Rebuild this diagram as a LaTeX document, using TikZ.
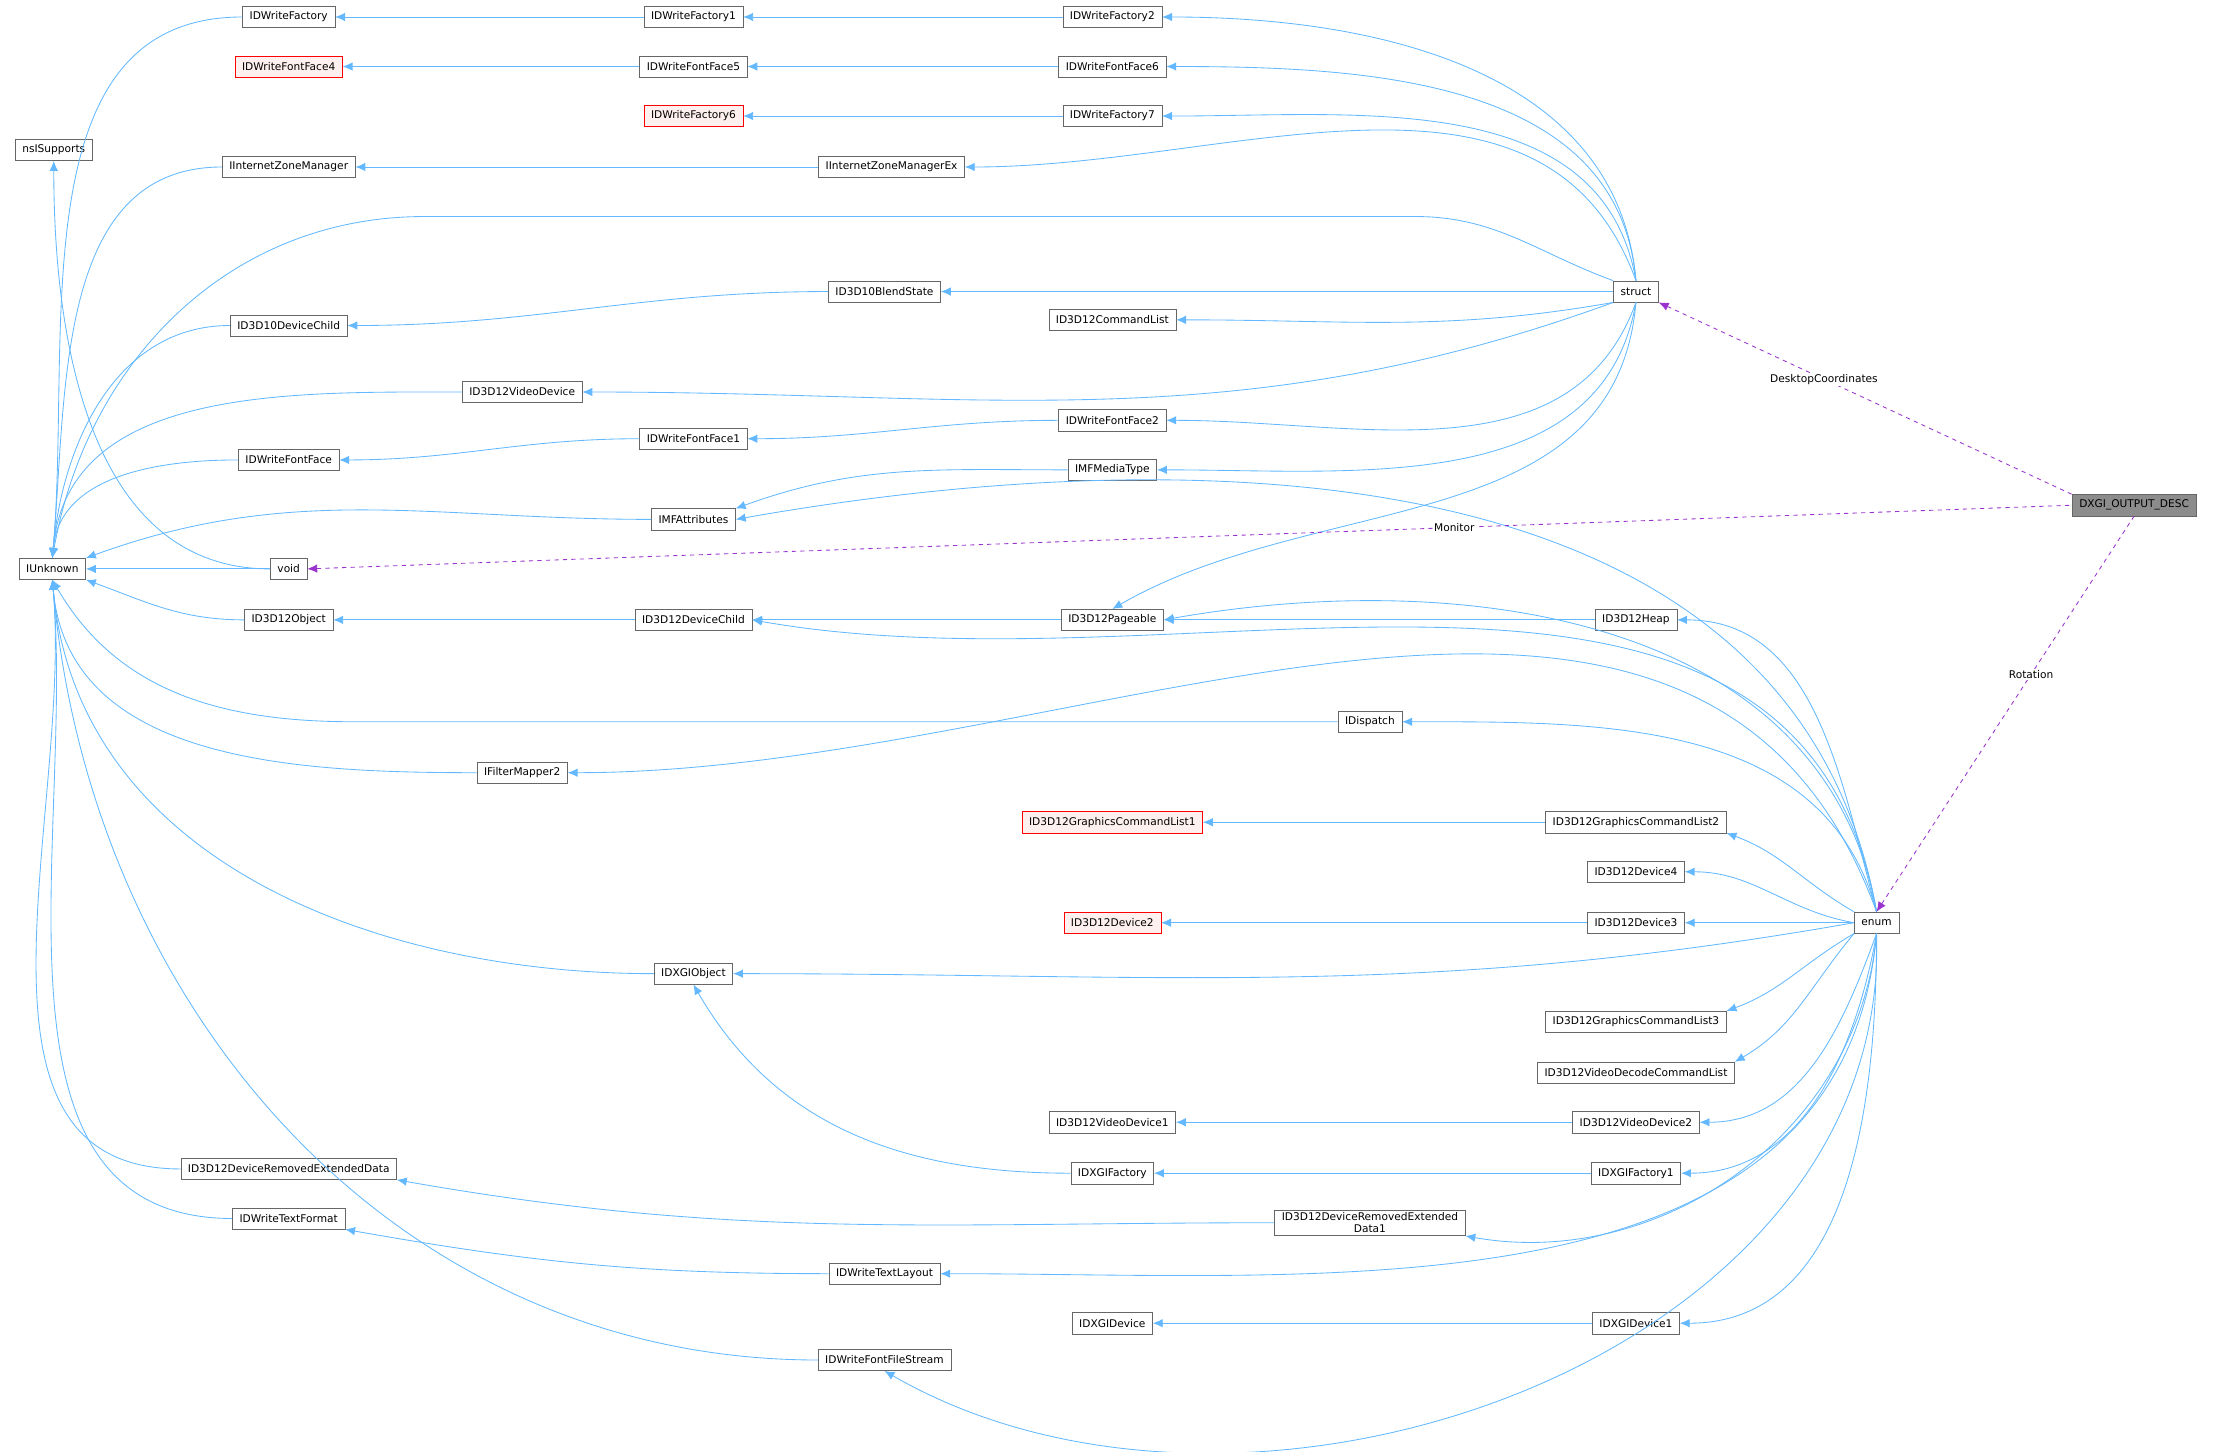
\documentclass[tikz,border=0pt]{standalone}
\usepackage{fontspec}
\setmainfont{DejaVu Sans}
\usetikzlibrary{arrows.meta}
\definecolor{edgeblue}{HTML}{63B8FF}
\definecolor{relpurple}{HTML}{9A32CD}
\tikzset{
  cls/.style={draw=black!60, fill=white, font=\fontsize{7.5}{8.5}\selectfont, minimum height=15pt, inner xsep=5pt, inner ysep=2pt, align=center},
  red cls/.style={cls, draw=red, fill=red!6},
  inh/.style={{Latex[length=7pt,width=6pt]}-, draw=edgeblue, line width=0.6pt},
  rel/.style={{Latex[length=7pt,width=6pt]}-, draw=relpurple, dashed, line width=0.6pt},
  lbl/.style={font=\fontsize{7.5}{8.5}\selectfont, fill=white, inner sep=1pt}
}
\begin{document}
\begin{tikzpicture}[x=1pt,y=-1pt]
\useasboundingbox (0,0) rectangle (1568,1026);

% classes
\node[cls] (nsi) at (38,106) {nsISupports};
\node[cls] (iunk) at (37,402) {IUnknown};
\node[cls] (dwf) at (204,12) {IDWriteFactory};
\node[cls] (dwf1) at (490,12) {IDWriteFactory1};
\node[cls] (dwf2) at (786,12) {IDWriteFactory2};
\node[red cls] (ff4) at (204,47) {IDWriteFontFace4};
\node[cls] (ff5) at (490,47) {IDWriteFontFace5};
\node[cls] (ff6) at (786,47) {IDWriteFontFace6};
\node[red cls] (dwf6) at (490,82) {IDWriteFactory6};
\node[cls] (dwf7) at (786,82) {IDWriteFactory7};
\node[cls] (izm) at (204,118) {IInternetZoneManager};
\node[cls] (izmx) at (630,118) {IInternetZoneManagerEx};
\node[cls] (blend) at (625,206) {ID3D10BlendState};
\node[cls] (strct) at (1156,206) {struct};
\node[cls] (dchild10) at (204,230) {ID3D10DeviceChild};
\node[cls] (cmdl) at (786,226) {ID3D12CommandList};
\node[cls] (vdev) at (369,277) {ID3D12VideoDevice};
\node[cls] (ff2) at (786,297) {IDWriteFontFace2};
\node[cls] (ff1) at (490,310) {IDWriteFontFace1};
\node[cls] (ff) at (204,325) {IDWriteFontFace};
\node[cls] (mft) at (786,332) {IMFMediaType};
\node[cls] (mfa) at (490,367) {IMFAttributes};
\node[cls, fill=black!45] (desc) at (1508,357) {DXGI\_OUTPUT\_DESC};
\node[cls] (void) at (204,402) {void};
\node[cls] (obj) at (204,438) {ID3D12Object};
\node[cls] (dchild) at (490,438) {ID3D12DeviceChild};
\node[cls] (page) at (786,438) {ID3D12Pageable};
\node[cls] (heap) at (1156,438) {ID3D12Heap};
\node[cls] (disp) at (968,510) {IDispatch};
\node[cls] (fm2) at (369,546) {IFilterMapper2};
\node[red cls] (gcl1) at (786,581) {ID3D12GraphicsCommandList1};
\node[cls] (gcl2) at (1156,581) {ID3D12GraphicsCommandList2};
\node[cls] (dev4) at (1156,616) {ID3D12Device4};
\node[red cls] (dev2) at (786,652) {ID3D12Device2};
\node[cls] (dev3) at (1156,652) {ID3D12Device3};
\node[cls] (enm) at (1326,652) {enum};
\node[cls] (dxo) at (490,688) {IDXGIObject};
\node[cls] (gcl3) at (1156,722) {ID3D12GraphicsCommandList3};
\node[cls] (vdcl) at (1156,758) {ID3D12VideoDecodeCommandList};
\node[cls] (vdev1) at (786,793) {ID3D12VideoDevice1};
\node[cls] (vdev2) at (1156,793) {ID3D12VideoDevice2};
\node[cls] (dred) at (204,826) {ID3D12DeviceRemovedExtendedData};
\node[cls] (dxf) at (786,829) {IDXGIFactory};
\node[cls] (dxf1) at (1156,829) {IDXGIFactory1};
\node[cls] (dred1) at (968,864) {ID3D12DeviceRemovedExtended\\Data1};
\node[cls] (tfmt) at (204,861) {IDWriteTextFormat};
\node[cls] (tlay) at (625,900) {IDWriteTextLayout};
\node[cls] (dxd) at (786,935) {IDXGIDevice};
\node[cls] (dxd1) at (1156,935) {IDXGIDevice1};
\node[cls] (ffs) at (625,961) {IDWriteFontFileStream};

% inheritance
\draw[inh] (dwf) -- (dwf1);
\draw[inh] (dwf1) -- (dwf2);
\draw[inh] (ff4) -- (ff5);
\draw[inh] (ff5) -- (ff6);
\draw[inh] (dwf6) -- (dwf7);
\draw[inh] (izm) -- (izmx);
\draw[inh] (dchild10.east) to[out=0,in=180] (blend.west);
\draw[inh] (ff.east) to[out=0,in=180] (ff1.west);
\draw[inh] (ff1.east) to[out=0,in=180] (ff2.west);
\draw[inh] (mfa.north east) to[out=20,in=180] (mft.west);
\draw[inh] (obj) -- (dchild);
\draw[inh] (dchild) -- (page);
\draw[inh] (page) -- (heap);
\draw[inh] (gcl1) -- (gcl2);
\draw[inh] (dev2) -- (dev3);
\draw[inh] (vdev1) -- (vdev2);
\draw[inh] (dxf) -- (dxf1);
\draw[inh] (dxd) -- (dxd1);
\draw[inh] (dxo.south) to[out=-60,in=180] (dxf.west);
\draw[inh] (dred.south east) to[out=-10,in=180] (dred1.west);
\draw[inh] (tfmt.south east) to[out=-10,in=180] (tlay.west);
\draw[inh] (nsi.south) to[out=-90,in=180] (void.west);

% from struct
\draw[inh] (dwf2.east) to[out=0,in=95] (strct.north);
\draw[inh] (ff6.east) to[out=0,in=95] (strct.north);
\draw[inh] (dwf7.east) to[out=0,in=100] (strct.north);
\draw[inh] (izmx.east) to[out=0,in=110] (strct.north);
\draw[inh] (iunk.north) to[out=80,in=180] (300,153) -- (1000,153) to[out=0,in=160] (strct.north west);
\draw[inh] (blend.east) to[out=0,in=180] (strct.west);
\draw[inh] (cmdl.east) to[out=0,in=190] (strct.south west);
\draw[inh] (vdev.east) to[out=0,in=200] (strct.south west);
\draw[inh] (ff2.east) to[out=0,in=-110] (strct.south);
\draw[inh] (mft.east) to[out=0,in=-100] (strct.south);
\draw[inh] (page.north) to[out=30,in=-95] (strct.south);

% to IUnknown
\foreach \n in {dwf,izm,dchild10,vdev,ff}
  \draw[inh] (iunk.north) to[out=85,in=180] (\n.west);
\draw[inh] (iunk.north east) to[out=20,in=180] (mfa.west);
\draw[inh] (iunk) -- (void);
\draw[inh] (iunk.south east) to[out=-20,in=180] (obj.west);
\draw[inh] (iunk.south) to[out=-60,in=180] (250,510) -- (disp.west);
\foreach \n in {fm2,dxo,dred,tfmt,ffs}
  \draw[inh] (iunk.south) to[out=-85,in=180] (\n.west);

% from enum
\draw[inh] (mfa.east) to[out=10,in=100] (enm.north);
\draw[inh] (page.east) to[out=10,in=100] (enm.north);
\draw[inh] (dchild.east) to[out=-10,in=100] (enm.north);
\draw[inh] (heap.east) to[out=0,in=105] (enm.north);
\draw[inh] (disp.east) to[out=0,in=105] (enm.north);
\draw[inh] (fm2.east) to[out=0,in=110] (enm.north);
\draw[inh] (gcl2.south east) to[out=-20,in=150] (enm.north west);
\draw[inh] (dev4.east) to[out=0,in=170] (enm.west);
\draw[inh] (dev3) -- (enm);
\draw[inh] (dxo.east) to[out=0,in=190] (enm.west);
\draw[inh] (gcl3.north east) to[out=20,in=210] (enm.south west);
\draw[inh] (vdcl.north east) to[out=30,in=230] (enm.south west);
\draw[inh] (vdev2.east) to[out=0,in=250] (enm.south);
\draw[inh] (dxf1.east) to[out=0,in=260] (enm.south);
\draw[inh] (dred1.south east) to[out=-10,in=265] (enm.south);
\draw[inh] (tlay.east) to[out=0,in=265] (enm.south);
\draw[inh] (dxd1.east) to[out=0,in=270] (enm.south);
\draw[inh] (ffs.south) to[out=-30,in=272] (enm.south);

% members
\draw[rel] (strct.south east) -- node[lbl, pos=0.4] {DesktopCoordinates} (desc.north west);
\draw[rel] (void.east) -- node[lbl, pos=0.65] {Monitor} (desc.west);
\draw[rel] (enm.north) -- node[lbl, pos=0.6] {Rotation} (desc.south);
\end{tikzpicture}
\end{document}
